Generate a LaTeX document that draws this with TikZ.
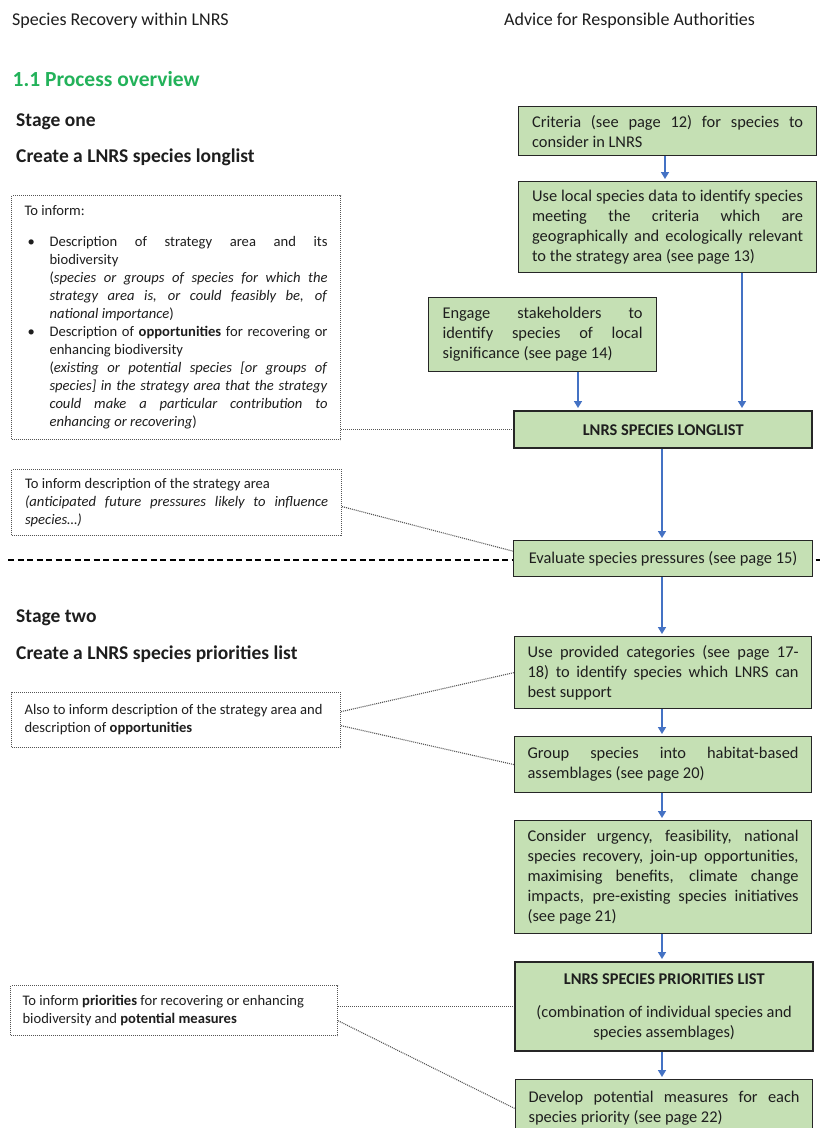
\documentclass[tikz,border=0pt]{standalone}
\usepackage{fontspec}
\setmainfont{Carlito}
\usetikzlibrary{arrows.meta,calc}
\definecolor{boxgreen}{RGB}{197,224,180}
\definecolor{boxline}{RGB}{38,38,38}
\definecolor{arrblue}{RGB}{68,114,196}
\definecolor{headgreen}{RGB}{35,178,90}
\definecolor{dotgray}{RGB}{85,85,85}
\definecolor{txt}{RGB}{30,30,30}
\newcommand\jw[2]{\makebox[#1][s]{\spaceskip=0pt\xspaceskip=0pt #2}}
\newcommand\mybl{\makebox[25pt][l]{\hspace{3pt}\textbullet}}
\newcommand\myind{\hspace*{25pt}}
\newcommand\normsp{\spaceskip=0pt\xspaceskip=0pt\relax}
\begin{document}
\begin{tikzpicture}[x=1pt,y=-1pt,
  gbox/.style={draw=boxline, fill=boxgreen, line width=1.2pt, anchor=north west,
    inner xsep=0pt, inner ysep=0pt, align=left, text width=271pt, text=txt,
    font=\fontsize{16.4}{20}\selectfont\normsp, execute at begin node=\normsp},
  thickbox/.style={gbox, line width=2.4pt, align=flush center},
  lbox/.style={draw=dotgray, fill=white, line width=1.1pt, dash pattern=on 1pt off 1pt,
    anchor=north west, inner xsep=0pt, inner ysep=0pt, align=left, text width=303pt,
    text=txt, font=\fontsize{14.6}{18}\selectfont\normsp, execute at begin node=\normsp},
  head/.style={anchor=base west, inner sep=0pt, text=txt},
  arr/.style={draw=arrblue, line width=1.6pt, -{Triangle[width=8pt,length=7pt]}, shorten >=2pt},
  dotc/.style={draw=dotgray, line width=1.1pt, dash pattern=on 1pt off 1pt}
]
\useasboundingbox (0,0) rectangle (820,1128);
\fill[white] (0,0) rectangle (820,1128);
\clip (0,0) rectangle (820,1128);

% headings
\node[head, font=\fontsize{18}{22}\selectfont] (h1) at (12,25) {Species Recovery within LNRS};
\node[head, font=\fontsize{18}{22}\selectfont] (h2) at (504,25) {Advice for Responsible Authorities};
\node[head, font=\bfseries\fontsize{21.5}{26}\selectfont, text=headgreen] (h3) at (12.5,86) {1.1 Process overview};
\node[head, font=\bfseries\fontsize{19.5}{24}\selectfont] (s1) at (16,126) {Stage one};
\node[head, font=\bfseries\fontsize{19.5}{24}\selectfont] (s1b) at (16,162) {Create a LNRS species longlist};
\node[head, font=\bfseries\fontsize{19.5}{24}\selectfont] (s2) at (16,622) {Stage two};
\node[head, font=\bfseries\fontsize{19.5}{24}\selectfont] (s2b) at (16,659) {Create a LNRS species priorities list};

% stage separator
\draw[black, line width=1.2pt, dash pattern=on 6pt off 3.5pt] (8,560) -- (820,560);

% right-hand process boxes
\node[gbox, minimum width=298pt, minimum height=49pt] (b1) at (518,106)
  {\jw{271pt}{Criteria (see page 12) for species to}\\consider in LNRS};
\node[gbox, minimum width=298pt, minimum height=91pt] (b2) at (518,181)
  {\jw{271pt}{Use local species data to identify species}\\
   \jw{271pt}{meeting the criteria which are}\\
   \jw{271pt}{geographically and ecologically relevant}\\
   to the strategy area (see page 13)};
\node[gbox, text width=200pt, minimum width=228pt, minimum height=74pt] (b3) at (428,297)
  {\jw{200pt}{Engage stakeholders to}\\
   \jw{200pt}{identify species of local}\\
   significance (see page 14)};
\node[thickbox, minimum width=298pt, minimum height=37pt] (ll) at (513,410)
  {\textbf{LNRS SPECIES LONGLIST}};
\node[gbox, align=flush center, minimum width=299pt, minimum height=36pt] (ev) at (513,540)
  {Evaluate species pressures (see page 15)};
\node[gbox, minimum width=297pt, minimum height=72pt] (up) at (514,636)
  {\jw{271pt}{Use provided categories (see page 17-}\\
   \jw{271pt}{18) to identify species which LNRS can}\\
   best support};
\node[gbox, minimum width=297pt, minimum height=56pt] (grp) at (514,736)
  {\jw{271pt}{Group species into habitat-based}\\
   assemblages (see page 20)};
\node[gbox, minimum width=297pt, minimum height=113pt] (con) at (514,820)
  {\jw{271pt}{Consider urgency, feasibility, national}\\
   \jw{271pt}{species recovery, join-up opportunities,}\\
   \jw{271pt}{maximising benefits, climate change}\\
   \jw{271pt}{impacts, pre-existing species initiatives}\\
   (see page 21)};
\node[thickbox, minimum width=298pt, minimum height=89pt] (pr) at (514,961)
  {\textbf{LNRS SPECIES PRIORITIES LIST}\\[13pt]
   (combination of individual species and\\
   species assemblages)};
\node[gbox, minimum width=297pt, minimum height=58pt] (dev) at (515,1079)
  {\jw{271pt}{Develop potential measures for each}\\
   species priority (see page 22)};

% left-hand information boxes
\node[lbox, minimum width=329pt, minimum height=244pt] (lb1) at (11,195)
  {To inform:\\[13pt]
   \mybl\jw{278pt}{Description of strategy area and its}\\
   \myind biodiversity\\
   \myind\jw{278pt}{(\textit{species or groups of species for which the}}\\
   \myind\jw{278pt}{\textit{strategy area is, or could feasibly be, of}}\\
   \myind\textit{national importance})\\
   \mybl\jw{278pt}{Description of \textbf{opportunities} for recovering or}\\
   \myind enhancing biodiversity\\
   \myind\jw{278pt}{(\textit{existing or potential species [or groups of}}\\
   \myind\jw{278pt}{\textit{species] in the strategy area that the strategy}}\\
   \myind\jw{278pt}{\textit{could make a particular contribution to}}\\
   \myind\textit{enhancing or recovering})};
\node[lbox, minimum width=330pt, minimum height=66pt] (lb2) at (11,469)
  {To inform description of the strategy area\\
   \jw{303pt}{\textit{(anticipated future pressures likely to influence}}\\
   \textit{species…)}};
\node[lbox, minimum width=329pt, minimum height=55pt] (lb3) at (11,692)
  {Also to inform description of the strategy area and\\
   description of \textbf{opportunities}};
\node[lbox, minimum width=327pt, minimum height=50pt] (lb4) at (10,985)
  {To inform \textbf{priorities} for recovering or enhancing\\
   biodiversity and \textbf{potential measures}};

% arrows
\coordinate (xa) at (742,0);
\coordinate (xb) at (578,0);
\coordinate (xc) at (662,0);
\coordinate (xd) at (665,0);
\draw[arr] (b1.south -| xd) -- (b2.north -| xd);
\draw[arr] (b2.south -| xa) -- (ll.north -| xa);
\draw[arr] (b3.south -| xb) -- (ll.north -| xb);
\draw[arr] (ll.south -| xc) -- (ev.north -| xc);
\draw[arr] (ev.south -| xc) -- (up.north -| xc);
\draw[arr] (up.south -| xc) -- (grp.north -| xc);
\draw[arr] (grp.south -| xc) -- (con.north -| xc);
\draw[arr] (con.south -| xc) -- (pr.north -| xc);
\draw[arr] (pr.south -| xc) -- (dev.north -| xc);

% dotted links
\draw[dotc] (lb1.east |- ll.west) -- (ll.west);
\draw[dotc] ($(lb2.north east)!0.56!(lb2.south east)$) -- ($(ev.north west)!0.3!(ev.south west)$);
\draw[dotc] ($(lb3.north east)!0.35!(lb3.south east)$) -- (up.west);
\draw[dotc] ($(lb3.north east)!0.6!(lb3.south east)$) -- (grp.west);
\draw[dotc] (lb4.east |- pr.west) -- (pr.west);
\draw[dotc] ($(lb4.north east)!0.7!(lb4.south east)$) -- (dev.west);
\end{tikzpicture}
\end{document}
